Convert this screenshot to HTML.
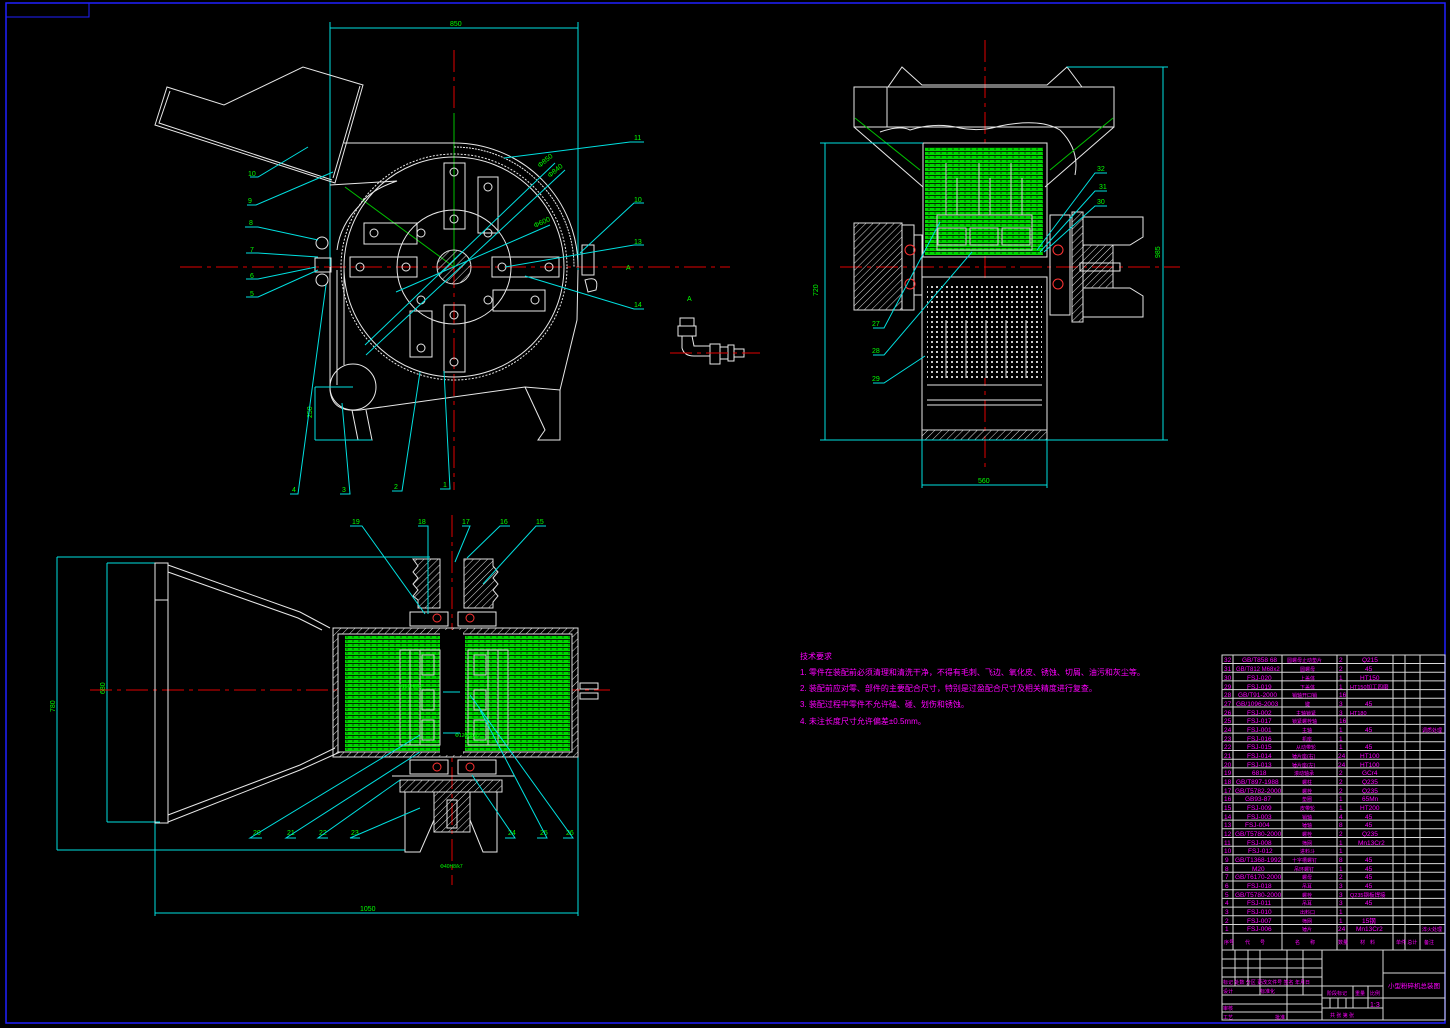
<!DOCTYPE html>
<html><head><meta charset="utf-8"><style>
html,body{margin:0;padding:0;background:#000;}
svg{display:block}
text{font-family:"Liberation Sans","Noto Sans CJK SC",sans-serif;}
.w{stroke:#e8e8e8;fill:none;stroke-width:1}
.c{stroke:#00e0e0;fill:none;stroke-width:1}
.r{stroke:#e00000;fill:none;stroke-width:1;stroke-dasharray:22 5 4 5}
.g{fill:#00ff00;font-size:7px}
.m{fill:#ff00ff}
.t{stroke:#d8d8d8;fill:none;stroke-width:1}
</style></head><body>
<svg width="1450" height="1028" viewBox="0 0 1450 1028" xmlns="http://www.w3.org/2000/svg">
<defs>
<pattern id="h" width="5" height="5" patternUnits="userSpaceOnUse" patternTransform="rotate(45)"><line x1="0" y1="0" x2="0" y2="5" stroke="#ddd" stroke-width="1"/></pattern>
<pattern id="gr" width="6" height="4" patternUnits="userSpaceOnUse"><rect width="6" height="4" fill="#00d800"/><line x1="0" y1="3.5" x2="6" y2="3.5" stroke="#000" stroke-width="0.8"/><line x1="5" y1="0" x2="5" y2="2" stroke="#000" stroke-width="0.6"/></pattern>
<pattern id="wg" width="5" height="5" patternUnits="userSpaceOnUse"><rect width="5" height="5" fill="#000"/><rect x="1" y="1" width="2" height="2" fill="#ccc"/></pattern>
</defs>
<rect x="6" y="3" width="1439" height="1020" fill="none" stroke="#2020ff" stroke-width="1.5"/>
<rect x="6" y="3" width="83" height="14" fill="none" stroke="#2020ff"/>

<g>
<line class="c" x1="330" y1="22" x2="330" y2="270"/>
<line class="c" x1="578" y1="22" x2="578" y2="270"/>
<line class="c" x1="330" y1="28" x2="578" y2="28"/>
<text class="g" x="450" y="26">850</text>
<line class="r" x1="180" y1="267" x2="730" y2="267"/>
<line class="r" x1="454" y1="50" x2="454" y2="490"/>
<line x1="454" y1="113" x2="454" y2="267" stroke="#00c000"/>
<line x1="345" y1="187" x2="454" y2="267" stroke="#00c000"/>
<polygon class="w" points="167,87 224,105 303,67 363,85 335,183 155,125"/>
<polyline class="w" points="170,91 159,123 332,180"/>
<polyline class="w" points="360,86 333,178"/>
<path class="w" d="M344,143 L454,143 A124,124 0 0 1 578,267"/>
<path class="w" d="M454,147 A120,120 0 0 1 574,267" stroke-dasharray="2 1"/>
<circle class="w" cx="454" cy="267" r="110"/>
<circle class="w" cx="454" cy="267" r="113" stroke-dasharray="2 1.5"/>
<path class="w" d="M330,185 L397,181 Q370,190 360,205 Q340,225 337,250"/>
<path class="w" d="M330,267 L330,390 Q332,413 360,410 L525,387 L560,390 L577,320 L578,270"/>
<path class="w" d="M337,270 L337,385" />
<line class="w" x1="344" y1="270" x2="344" y2="365"/>
<path class="w" d="M352,410 L358,440 L372,440 L366,410"/>
<path class="w" d="M525,387 L545,430 L538,440 L560,440 L560,390"/>
<circle class="w" cx="353" cy="387" r="23"/>
<line class="c" x1="315" y1="387" x2="353" y2="387"/><line class="c" x1="315" y1="440" x2="372" y2="440"/><line class="c" x1="315" y1="387" x2="315" y2="440"/>
<text class="g" x="312" y="418" transform="rotate(-90 312 418)">250</text>
<circle class="w" cx="454" cy="267" r="57"/>
<circle cx="454" cy="267" r="17" fill="url(#h)" stroke="#ddd"/>
<rect class="w" x="444" y="163" width="21" height="66"/><circle class="w" cx="454" cy="172" r="4"/><circle class="w" cx="454" cy="219" r="4"/>
<rect class="w" x="444" y="305" width="21" height="67"/><circle class="w" cx="454" cy="315" r="4"/><circle class="w" cx="454" cy="362" r="4"/>
<rect class="w" x="350" y="257" width="67" height="20"/><circle class="w" cx="360" cy="267" r="4"/><circle class="w" cx="406" cy="267" r="4"/>
<rect class="w" x="492" y="257" width="67" height="20"/><circle class="w" cx="502" cy="267" r="4"/><circle class="w" cx="549" cy="267" r="4"/>
<rect class="w" x="478" y="177" width="20" height="56"/><circle class="w" cx="488" cy="187" r="4"/><circle class="w" cx="488" cy="233" r="4"/>
<rect class="w" x="364" y="223" width="53" height="21"/><circle class="w" cx="374" cy="233" r="4"/><circle class="w" cx="421" cy="233" r="4"/>
<rect class="w" x="493" y="290" width="52" height="21"/><circle class="w" cx="535" cy="300" r="4"/><circle class="w" cx="488" cy="300" r="4"/>
<rect class="w" x="410" y="311" width="22" height="46"/><circle class="w" cx="421" cy="348" r="4"/><circle class="w" cx="421" cy="300" r="4"/>
<circle class="w" cx="322" cy="243" r="6"/><rect class="w" x="315" y="258" width="16" height="14"/><circle class="w" cx="322" cy="280" r="6"/>
<rect class="w" x="582" y="245" width="12" height="30"/><path class="w" d="M585,280 Q600,275 596,290 L588,292Z"/>
<g class="c">
<polyline points="250,177 258,177 308,147"/><polyline points="247,205 256,205 333,172"/>
<polyline points="245,227 258,227 318,240"/><polyline points="246,253 258,253 318,257"/>
<polyline points="246,279 258,279 316,267"/><polyline points="246,297 258,297 318,270"/>
<polyline points="290,494 298,494 326,285"/><polyline points="340,494 350,494 342,403"/>
<polyline points="392,491 402,491 420,372"/><polyline points="440,489 450,489 444,371"/>
<polyline points="644,142 630,142 504,158"/><polyline points="644,203 634,203 580,253"/>
<polyline points="644,245 634,245 505,267"/><polyline points="644,309 634,309 525,276"/>
<line x1="365" y1="345" x2="555" y2="163"/><line x1="366" y1="355" x2="565" y2="170"/><line x1="396" y1="292" x2="550" y2="225"/>
</g>
<g class="g"><text x="248" y="176">10</text><text x="248" y="203">9</text><text x="249" y="225">8</text><text x="250" y="252">7</text><text x="250" y="278">6</text><text x="250" y="296">5</text>
<text x="292" y="492">4</text><text x="342" y="492">3</text><text x="394" y="489">2</text><text x="443" y="487">1</text>
<text x="634" y="140">11</text><text x="634" y="202">10</text><text x="634" y="244">13</text><text x="634" y="307">14</text><text x="626" y="270">A</text>
<text x="540" y="168" transform="rotate(-40 540 168)">Φ850</text><text x="550" y="178" transform="rotate(-40 550 178)">Φ840</text><text x="535" y="228" transform="rotate(-25 535 228)">Φ600</text></g>
</g>

<g class="w">
<rect x="680" y="318" width="14" height="8"/><rect x="678" y="326" width="18" height="10"/>
<path d="M682,336 L682,348 Q684,356 694,356 L710,356 L710,346 L694,346 L692,336"/>
<rect x="710" y="344" width="10" height="20"/><rect x="720" y="347" width="8" height="12"/><rect x="728" y="345" width="6" height="16"/><rect x="734" y="349" width="10" height="8"/>
</g>
<line class="r" x1="670" y1="353" x2="760" y2="353"/>
<text class="g" x="687" y="301" font-size="8">A</text>

<g>
<line class="r" x1="985" y1="40" x2="985" y2="470"/>
<line class="r" x1="840" y1="267" x2="1180" y2="267"/>
<rect class="w" x="854" y="87" width="260" height="40"/>
<line class="w" x1="887" y1="87" x2="887" y2="127"/>
<polyline class="w" points="888,87 902,67 922,85 1047,85 1067,67 1082,87"/>
<path class="w" d="M880,132 Q900,125 910,130 Q935,122 960,128 Q980,132 1000,126 Q1040,118 1060,130 Q1080,150 1075,175"/>
<polyline class="w" points="854,127 923,187"/><polyline class="w" points="1114,127 1045,187"/>
<line x1="855" y1="118" x2="920" y2="170" stroke="#00c000"/><line x1="1113" y1="118" x2="1050" y2="170" stroke="#00c000"/>
<rect class="w" x="923" y="143" width="124" height="114"/>
<rect x="925" y="147" width="118" height="108" fill="url(#gr)"/>
<g stroke="#ccc" fill="none"><line x1="946" y1="163" x2="946" y2="215"/><line x1="957" y1="178" x2="957" y2="215"/><line x1="979" y1="163" x2="979" y2="215"/><line x1="990" y1="178" x2="990" y2="215"/><line x1="1011" y1="163" x2="1011" y2="215"/><line x1="1022" y1="178" x2="1022" y2="215"/>
<rect x="937" y="215" width="95" height="35"/><rect x="938" y="228" width="28" height="17"/><rect x="970" y="228" width="28" height="17"/><rect x="1002" y="228" width="28" height="17"/></g>
<rect x="854" y="223" width="48" height="87" fill="url(#h)" stroke="#ddd"/>
<rect x="902" y="225" width="12" height="85" class="w"/>
<rect x="914" y="235" width="8" height="60" class="w"/>
<circle cx="910" cy="250" r="5" fill="none" stroke="#f33"/><circle cx="910" cy="284" r="5" fill="none" stroke="#f33"/>
<circle cx="1058" cy="250" r="5" fill="none" stroke="#f33"/><circle cx="1058" cy="284" r="5" fill="none" stroke="#f33"/>
<rect class="w" x="1050" y="215" width="20" height="100"/>
<rect x="1072" y="212" width="11" height="110" fill="url(#h)" stroke="#ddd"/>
<polygon class="w" points="1083,217 1143,217 1143,237 1130,245 1083,245"/>
<polygon class="w" points="1083,288 1130,288 1143,296 1143,317 1083,317"/>
<rect x="1083" y="245" width="30" height="43" fill="url(#h)" stroke="#ddd"/>
<rect class="w" x="1080" y="263" width="40" height="8"/>
<rect class="w" x="922" y="277" width="125" height="163"/>
<rect x="927" y="283" width="115" height="95" fill="url(#wg)"/>
<g stroke="#ccc"><line x1="946" y1="320" x2="946" y2="378"/><line x1="966" y1="320" x2="966" y2="378"/><line x1="986" y1="320" x2="986" y2="378"/><line x1="1006" y1="320" x2="1006" y2="378"/><line x1="1026" y1="320" x2="1026" y2="378"/></g>
<line class="w" x1="927" y1="385" x2="1042" y2="385"/><line class="w" x1="927" y1="400" x2="1042" y2="400"/><line class="w" x1="927" y1="405" x2="1042" y2="405"/>
<rect x="922" y="430" width="125" height="10" fill="url(#h)" stroke="#ddd"/>
<line class="c" x1="825" y1="143" x2="825" y2="440"/><line class="c" x1="820" y1="143" x2="923" y2="143"/><line class="c" x1="820" y1="440" x2="1168" y2="440"/>
<line class="c" x1="1163" y1="67" x2="1163" y2="440"/><line class="c" x1="1067" y1="67" x2="1168" y2="67"/>
<line class="c" x1="922" y1="440" x2="922" y2="488"/><line class="c" x1="1047" y1="440" x2="1047" y2="488"/><line class="c" x1="922" y1="485" x2="1047" y2="485"/>
<g class="g"><text x="818" y="296" transform="rotate(-90 818 296)">720</text><text x="1160" y="258" transform="rotate(-90 1160 258)">985</text><text x="978" y="483">560</text>
<text x="872" y="326">27</text><text x="872" y="353">28</text><text x="872" y="381">29</text><text x="1097" y="171">32</text><text x="1099" y="189">31</text><text x="1097" y="204">30</text></g>
<g class="c"><polyline points="873,328 884,328 940,222"/><polyline points="873,355 884,355 972,252"/><polyline points="873,383 884,383 925,356"/>
<polyline points="1107,173 1095,173 1037,250"/><polyline points="1107,191 1095,191 1040,252"/><polyline points="1107,206 1095,206 1044,252"/></g>
</g>

<g>
<line class="c" x1="57" y1="557" x2="430" y2="557"/><line class="c" x1="57" y1="557" x2="57" y2="850"/><line class="c" x1="57" y1="850" x2="405" y2="850"/>
<line class="c" x1="107" y1="563" x2="160" y2="563"/><line class="c" x1="107" y1="822" x2="160" y2="822"/><line class="c" x1="107" y1="563" x2="107" y2="822"/>
<line class="c" x1="155" y1="822" x2="155" y2="916"/><line class="c" x1="578" y1="757" x2="578" y2="916"/><line class="c" x1="155" y1="913" x2="578" y2="913"/>
<g class="g"><text x="55" y="712" transform="rotate(-90 55 712)">780</text><text x="105" y="694" transform="rotate(-90 105 694)">680</text><text x="360" y="911">1050</text></g>
<line class="r" x1="90" y1="690" x2="610" y2="690"/>
<line class="r" x1="452" y1="515" x2="452" y2="885"/>
<rect class="w" x="155" y="563" width="13" height="260"/><line class="w" x1="155" y1="600" x2="168" y2="600"/>
<polyline class="w" points="168,565 300,612 330,628"/><polyline class="w" points="168,572 298,618 322,630"/>
<polyline class="w" points="168,822 300,770 340,752"/><polyline class="w" points="168,815 300,765 335,748"/>
<rect x="333" y="628" width="245" height="129" fill="url(#h)" stroke="#ddd"/>
<rect x="338" y="634" width="234" height="118" fill="#000" stroke="#ddd"/>
<rect x="345" y="636" width="95" height="115" fill="url(#gr)"/>
<rect x="465" y="636" width="105" height="115" fill="url(#gr)"/>
<rect x="440" y="630" width="23" height="125" fill="#000"/>
<g stroke="#ccc" fill="none"><rect x="400" y="650" width="40" height="95"/><rect x="410" y="650" width="10" height="95"/><rect x="422" y="655" width="12" height="20"/><rect x="422" y="690" width="12" height="20"/><rect x="422" y="720" width="12" height="20"/>
<rect x="468" y="650" width="40" height="95"/><rect x="488" y="650" width="10" height="95"/><rect x="474" y="655" width="12" height="20"/><rect x="474" y="690" width="12" height="20"/><rect x="474" y="720" width="12" height="20"/></g>
<rect class="w" x="580" y="683" width="18" height="6"/><rect class="w" x="580" y="693" width="18" height="6"/>
<path d="M413,559 L440,559 L440,608 L418,608 L418,600 L413,596 L418,590 L413,584 L418,578 L413,572 L418,566 Z" fill="url(#h)" stroke="#ddd"/>
<path d="M464,559 L493,559 L493,566 L498,572 L493,578 L498,584 L493,590 L498,596 L493,602 L493,608 L464,608 Z" fill="url(#h)" stroke="#ddd"/>
<rect class="w" x="410" y="612" width="38" height="14"/><rect class="w" x="458" y="612" width="38" height="14"/>
<circle cx="437" cy="618" r="4" fill="none" stroke="#f33"/><circle cx="470" cy="618" r="4" fill="none" stroke="#f33"/>
<rect class="w" x="410" y="760" width="38" height="14"/><rect class="w" x="458" y="760" width="38" height="14"/>
<circle cx="437" cy="767" r="4" fill="none" stroke="#f33"/><circle cx="470" cy="767" r="4" fill="none" stroke="#f33"/>
<line class="w" x1="392" y1="776" x2="515" y2="776"/>
<rect x="400" y="780" width="102" height="12" fill="url(#h)" stroke="#ddd"/>
<rect x="434" y="792" width="36" height="40" fill="url(#h)" stroke="#ddd"/>
<polyline class="w" points="405,792 405,852 420,852 434,820"/><polyline class="w" points="497,792 497,852 483,852 470,820"/>
<rect class="w" x="447" y="800" width="10" height="28"/>
<g class="g"><text x="352" y="524">19</text><text x="418" y="524">18</text><text x="462" y="524">17</text><text x="500" y="524">16</text><text x="536" y="524">15</text>
<text x="253" y="835">20</text><text x="287" y="835">21</text><text x="319" y="835">22</text><text x="351" y="835">23</text><text x="508" y="835">24</text><text x="540" y="835">25</text><text x="566" y="835">26</text>
<text x="398" y="688" font-size="5">Φ150H8/k7</text><text x="455" y="737" font-size="5">Φ120H8/k7</text><text x="440" y="868" font-size="5">Φ40H8/k7</text></g>
<g class="c"><polyline points="350,526 362,526 425,614"/><polyline points="418,526 428,526 428,614"/><polyline points="462,526 470,526 455,562"/><polyline points="510,526 500,526 467,558"/><polyline points="546,526 536,526 483,584"/>
<polyline points="262,838 250,838 420,735"/><polyline points="296,838 286,838 420,752"/><polyline points="328,838 318,838 400,780"/><polyline points="360,838 350,838 420,808"/>
<polyline points="505,838 515,838 472,775"/><polyline points="537,838 547,838 480,710"/><polyline points="563,838 573,838 470,695"/>
<line x1="443" y1="692" x2="460" y2="692"/><line x1="443" y1="733" x2="460" y2="733"/></g>
</g>

<g class="m" font-size="8">
<text x="800" y="659">技术要求</text>
<text x="800" y="675">1. 零件在装配前必须清理和清洗干净，不得有毛刺、飞边、氧化皮、锈蚀、切屑、油污和灰尘等。</text>
<text x="800" y="691">2. 装配前应对零、部件的主要配合尺寸，特别是过盈配合尺寸及相关精度进行复查。</text>
<text x="800" y="707">3. 装配过程中零件不允许磕、碰、划伤和锈蚀。</text>
<text x="800" y="724">4. 未注长度尺寸允许偏差±0.5mm。</text>
</g>

<g id="tbl" font-size="6.5" class="m">
<rect class="t" x="1222" y="655" width="223" height="365"/>
<g class="t">
<line x1="1233" y1="655" x2="1233" y2="950"/><line x1="1282" y1="655" x2="1282" y2="950"/><line x1="1337" y1="655" x2="1337" y2="950"/><line x1="1347" y1="655" x2="1347" y2="950"/><line x1="1393" y1="655" x2="1393" y2="950"/><line x1="1405" y1="655" x2="1405" y2="950"/><line x1="1420" y1="655" x2="1420" y2="950"/>
<line x1="1222" y1="950" x2="1445" y2="950"/>
</g>
<text x="1224" y="662">32</text><text x="1242" y="662">GB/T858 68</text><text x="1287" y="662" font-size="5">圆螺母止动垫片</text><text x="1339" y="662">2</text><text x="1362" y="662">Q215</text>
<text x="1224" y="671">31</text><text x="1236" y="671" font-size="6">GB/T812 M68x2</text><text x="1300" y="671" font-size="5">圆螺母</text><text x="1339" y="671">2</text><text x="1365" y="671">45</text>
<text x="1224" y="680">30</text><text x="1247" y="680">FSJ-020</text><text x="1300" y="680" font-size="5">上盖体</text><text x="1339" y="680">1</text><text x="1360" y="680">HT150</text>
<text x="1224" y="689">29</text><text x="1247" y="689">FSJ-019</text><text x="1300" y="689" font-size="5">下盖体</text><text x="1339" y="689">1</text><text x="1350" y="689" font-size="5.5">HT150加工四磨</text>
<text x="1224" y="697">28</text><text x="1238" y="697">GB/T91-2000</text><text x="1292" y="697" font-size="5">销轴开口销</text><text x="1339" y="697">16</text>
<text x="1224" y="706">27</text><text x="1236" y="706">GB/1096-2003</text><text x="1305" y="706" font-size="5">键</text><text x="1339" y="706">3</text><text x="1365" y="706">45</text>
<text x="1224" y="715">26</text><text x="1247" y="715">FSJ-002</text><text x="1296" y="715" font-size="5">主轴锁紧</text><text x="1339" y="715">3</text><text x="1350" y="715" font-size="5.5">HT180</text>
<text x="1224" y="723">25</text><text x="1247" y="723">FSJ-017</text><text x="1292" y="723" font-size="5">锁紧螺栓轴</text><text x="1339" y="723">16</text>
<text x="1224" y="732">24</text><text x="1247" y="732">FSJ-001</text><text x="1302" y="732" font-size="5">主轴</text><text x="1339" y="732">1</text><text x="1365" y="732">45</text><text x="1422" y="732" font-size="5">调质处理</text>
<text x="1224" y="741">23</text><text x="1247" y="741">FSJ-016</text><text x="1302" y="741" font-size="5">机座</text><text x="1339" y="741">1</text>
<text x="1224" y="749">22</text><text x="1247" y="749">FSJ-015</text><text x="1296" y="749" font-size="5">从动带轮</text><text x="1339" y="749">1</text><text x="1365" y="749">45</text>
<text x="1224" y="758">21</text><text x="1247" y="758">FSJ-014</text><text x="1292" y="758" font-size="5">锤片座(右)</text><text x="1338" y="758">24</text><text x="1360" y="758">HT100</text>
<text x="1224" y="767">20</text><text x="1247" y="767">FSJ-013</text><text x="1292" y="767" font-size="5">锤片座(左)</text><text x="1338" y="767">24</text><text x="1360" y="767">HT100</text>
<text x="1224" y="775">19</text><text x="1252" y="775">6818</text><text x="1294" y="775" font-size="5">滚动轴承</text><text x="1339" y="775">2</text><text x="1362" y="775">GCr4</text>
<text x="1224" y="784">18</text><text x="1236" y="784">GB/T897-1988</text><text x="1302" y="784" font-size="5">螺柱</text><text x="1339" y="784">2</text><text x="1362" y="784">Q235</text>
<text x="1224" y="793">17</text><text x="1235" y="793">GB/T5782-2000</text><text x="1302" y="793" font-size="5">螺栓</text><text x="1339" y="793">2</text><text x="1362" y="793">Q235</text>
<text x="1224" y="801">16</text><text x="1245" y="801">GB93-87</text><text x="1302" y="801" font-size="5">垫圈</text><text x="1339" y="801">1</text><text x="1362" y="801">65Mn</text>
<text x="1224" y="810">15</text><text x="1247" y="810">FSJ-009</text><text x="1300" y="810" font-size="5">皮带轮</text><text x="1339" y="810">1</text><text x="1360" y="810">HT200</text>
<text x="1224" y="819">14</text><text x="1247" y="819">FSJ-003</text><text x="1302" y="819" font-size="5">销轴</text><text x="1339" y="819">4</text><text x="1365" y="819">45</text>
<text x="1224" y="827">13</text><text x="1245" y="827">FSJ-004</text><text x="1302" y="827" font-size="5">锤轴</text><text x="1339" y="827">8</text><text x="1365" y="827">45</text>
<text x="1224" y="836">12</text><text x="1235" y="836">GB/T5780-2000</text><text x="1302" y="836" font-size="5">螺栓</text><text x="1339" y="836">2</text><text x="1362" y="836">Q235</text>
<text x="1224" y="845">11</text><text x="1247" y="845">FSJ-008</text><text x="1302" y="845" font-size="5">筛网</text><text x="1339" y="845">1</text><text x="1358" y="845">Mn13Cr2</text>
<text x="1224" y="853">10</text><text x="1248" y="853">FSJ-012</text><text x="1300" y="853" font-size="5">进料斗</text><text x="1339" y="853">1</text>
<text x="1225" y="862">9</text><text x="1235" y="862">GB/T1368-1992</text><text x="1292" y="862" font-size="5">十字槽螺钉</text><text x="1339" y="862">8</text><text x="1365" y="862">45</text>
<text x="1225" y="871">8</text><text x="1252" y="871">M20</text><text x="1294" y="871" font-size="5">吊环螺钉</text><text x="1339" y="871">1</text><text x="1365" y="871">45</text>
<text x="1225" y="879">7</text><text x="1235" y="879">GB/T6170-2000</text><text x="1302" y="879" font-size="5">螺母</text><text x="1339" y="879">2</text><text x="1365" y="879">45</text>
<text x="1225" y="888">6</text><text x="1247" y="888">FSJ-018</text><text x="1302" y="888" font-size="5">吊耳</text><text x="1339" y="888">3</text><text x="1365" y="888">45</text>
<text x="1225" y="897">5</text><text x="1235" y="897">GB/T5780-2000</text><text x="1302" y="897" font-size="5">螺栓</text><text x="1339" y="897">3</text><text x="1350" y="897" font-size="5.5">Q235钢板焊接</text>
<text x="1225" y="905">4</text><text x="1247" y="905">FSJ-011</text><text x="1302" y="905" font-size="5">吊耳</text><text x="1339" y="905">3</text><text x="1365" y="905">45</text>
<text x="1225" y="914">3</text><text x="1247" y="914">FSJ-010</text><text x="1300" y="914" font-size="5">出料口</text><text x="1339" y="914">1</text>
<text x="1225" y="923">2</text><text x="1247" y="923">FSJ-007</text><text x="1302" y="923" font-size="5">筛网</text><text x="1339" y="923">1</text><text x="1362" y="923">15钢</text>
<text x="1225" y="931">1</text><text x="1247" y="931">FSJ-006</text><text x="1302" y="931" font-size="5">锤片</text><text x="1338" y="931">24</text><text x="1356" y="931">Mn13Cr2</text><text x="1422" y="931" font-size="5">淬火处理</text>
<text x="1224" y="944" font-size="5">序号</text><text x="1245" y="944" font-size="5">代　　号</text><text x="1295" y="944" font-size="5">名　　称</text><text x="1338" y="944" font-size="5">数量</text><text x="1360" y="944" font-size="5">材　料</text><text x="1396" y="944" font-size="5">单件 总计</text><text x="1424" y="944" font-size="5">备注</text>
<g class="t">
<line x1="1222" y1="663.5" x2="1445" y2="663.5"/><line x1="1222" y1="672.2" x2="1445" y2="672.2"/><line x1="1222" y1="680.9" x2="1445" y2="680.9"/><line x1="1222" y1="689.6" x2="1445" y2="689.6"/><line x1="1222" y1="698.3" x2="1445" y2="698.3"/><line x1="1222" y1="707" x2="1445" y2="707"/><line x1="1222" y1="715.7" x2="1445" y2="715.7"/><line x1="1222" y1="724.4" x2="1445" y2="724.4"/><line x1="1222" y1="733.1" x2="1445" y2="733.1"/><line x1="1222" y1="741.8" x2="1445" y2="741.8"/><line x1="1222" y1="750.5" x2="1445" y2="750.5"/><line x1="1222" y1="759.2" x2="1445" y2="759.2"/><line x1="1222" y1="767.9" x2="1445" y2="767.9"/><line x1="1222" y1="776.6" x2="1445" y2="776.6"/><line x1="1222" y1="785.3" x2="1445" y2="785.3"/><line x1="1222" y1="794" x2="1445" y2="794"/><line x1="1222" y1="802.7" x2="1445" y2="802.7"/><line x1="1222" y1="811.4" x2="1445" y2="811.4"/><line x1="1222" y1="820.1" x2="1445" y2="820.1"/><line x1="1222" y1="828.8" x2="1445" y2="828.8"/><line x1="1222" y1="837.5" x2="1445" y2="837.5"/><line x1="1222" y1="846.2" x2="1445" y2="846.2"/><line x1="1222" y1="854.9" x2="1445" y2="854.9"/><line x1="1222" y1="863.6" x2="1445" y2="863.6"/><line x1="1222" y1="872.3" x2="1445" y2="872.3"/><line x1="1222" y1="881" x2="1445" y2="881"/><line x1="1222" y1="889.7" x2="1445" y2="889.7"/><line x1="1222" y1="898.4" x2="1445" y2="898.4"/><line x1="1222" y1="907.1" x2="1445" y2="907.1"/><line x1="1222" y1="915.8" x2="1445" y2="915.8"/><line x1="1222" y1="924.5" x2="1445" y2="924.5"/><line x1="1222" y1="933.2" x2="1445" y2="933.2"/>
<line x1="1322" y1="950" x2="1322" y2="1020"/><line x1="1383" y1="950" x2="1383" y2="1020"/>
<line x1="1383" y1="973" x2="1445" y2="973"/><line x1="1383" y1="998" x2="1445" y2="998"/>
<line x1="1222" y1="959" x2="1322" y2="959"/><line x1="1222" y1="968" x2="1322" y2="968"/><line x1="1222" y1="977" x2="1322" y2="977"/><line x1="1222" y1="986" x2="1322" y2="986"/><line x1="1222" y1="995" x2="1322" y2="995"/><line x1="1222" y1="1004" x2="1322" y2="1004"/><line x1="1222" y1="1012" x2="1322" y2="1012"/>
<line x1="1235" y1="950" x2="1235" y2="986"/><line x1="1248" y1="950" x2="1248" y2="986"/><line x1="1260" y1="950" x2="1260" y2="995"/><line x1="1287" y1="950" x2="1287" y2="1020"/><line x1="1303" y1="950" x2="1303" y2="995"/>
<line x1="1322" y1="986" x2="1383" y2="986"/><line x1="1322" y1="998" x2="1383" y2="998"/><line x1="1322" y1="1008" x2="1383" y2="1008"/>
<line x1="1353" y1="986" x2="1353" y2="1008"/><line x1="1368" y1="986" x2="1368" y2="1008"/>
<line x1="1330" y1="998" x2="1330" y2="1008"/><line x1="1338" y1="998" x2="1338" y2="1008"/><line x1="1346" y1="998" x2="1346" y2="1008"/>
</g>
<g font-size="5"><text x="1223" y="984">标记 处数 分区 更改文件号 签名 年月日</text><text x="1223" y="993">设计</text><text x="1260" y="993">标准化</text><text x="1223" y="1010">审核</text><text x="1223" y="1019">工艺</text><text x="1275" y="1019">批准</text>
<text x="1327" y="995">阶段标记</text><text x="1355" y="995">重量</text><text x="1370" y="995">比例</text><text x="1330" y="1017">共 张 第 张</text></g>
<text x="1370" y="1007" font-size="7">1:3</text>
<text x="1388" y="988" font-size="6.5">小型粉碎机总装图</text>
</g>
</svg>
</body></html>
